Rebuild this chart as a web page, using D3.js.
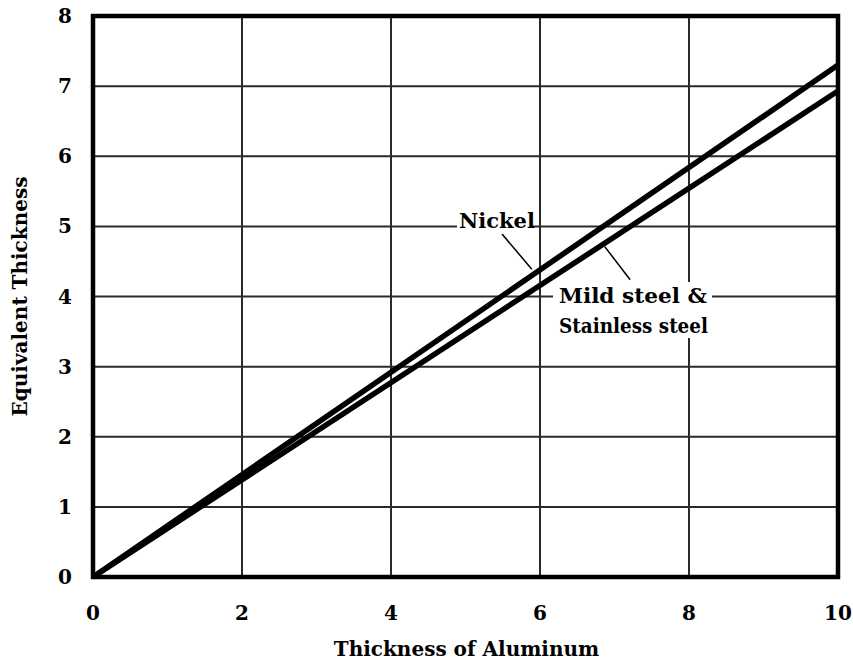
<!DOCTYPE html>
<html>
<head>
<meta charset="utf-8">
<script src="https://cdn.jsdelivr.net/npm/d3@7"></script>
<style>
  body { margin: 0; background: #fff; }
  svg { display: block; }
</style>
</head>
<body>
<div id="chart"></div>
<script>
// data
const xTicks = [0, 2, 4, 6, 8, 10];
const yTicks = [0, 1, 2, 3, 4, 5, 6, 7, 8];
const aluminum = [0, 10];
const nickel = [0, 7.3];
const steel = [0, 6.93];

const margin = { top: 16, right: 15, bottom: 90, left: 93 };
const width = 853 - margin.left - margin.right;
const height = 667 - margin.top - margin.bottom;

const svg = d3.select("#chart")
    .append("svg")
    .attr("width", 853)
    .attr("height", 667)
    .style("font-family", "'DejaVu Serif', 'Liberation Serif', serif")
    .style("font-weight", "bold");

const g = svg.append("g")
    .attr("transform", `translate(${margin.left},${margin.top})`);

const x = d3.scaleLinear().domain([0, 10]).range([0, width]);
const y = d3.scaleLinear().domain([0, 8]).range([height, 0]);

// grid
g.append("g")
    .selectAll("line")
    .data(xTicks)
    .enter()
    .append("line")
    .attr("x1", d => x(d)).attr("x2", d => x(d))
    .attr("y1", 0).attr("y2", height)
    .attr("stroke", "#2a2a2a")
    .attr("stroke-width", 2);

g.append("g")
    .selectAll("line")
    .data(yTicks)
    .enter()
    .append("line")
    .attr("x1", 0).attr("x2", width)
    .attr("y1", d => y(d)).attr("y2", d => y(d))
    .attr("stroke", "#2a2a2a")
    .attr("stroke-width", 2);

// curves
const line = d3.line()
    .x((d, i) => x(aluminum[i]))
    .y(d => y(d));

g.append("path")
    .datum(steel)
    .attr("d", line)
    .attr("fill", "none")
    .attr("stroke", "#000")
    .attr("stroke-width", 5.5);

g.append("path")
    .datum(nickel)
    .attr("d", line)
    .attr("fill", "none")
    .attr("stroke", "#000")
    .attr("stroke-width", 5.5);

// labels with leader lines
g.append("line")
    .attr("x1", x(5.49)).attr("y1", y(4.89))
    .attr("x2", x(5.89)).attr("y2", y(4.39))
    .attr("stroke", "#000").attr("stroke-width", 1.5);

g.append("line")
    .attr("x1", x(6.87)).attr("y1", y(4.71))
    .attr("x2", x(7.21)).attr("y2", y(4.24))
    .attr("stroke", "#000").attr("stroke-width", 1.5);

// white boxes behind the labels break the grid
g.append("rect")
    .attr("x", 364).attr("y", 198)
    .attr("width", 76).attr("height", 20)
    .attr("fill", "#fff");

g.append("text")
    .attr("x", 404)
    .attr("y", 212)
    .attr("text-anchor", "middle")
    .style("font-size", "21px")
    .text("Nickel");

g.append("rect")
    .attr("x", 460).attr("y", 266)
    .attr("width", 159).attr("height", 56)
    .attr("fill", "#fff");

g.append("text")
    .attr("x", 466)
    .attr("y", 287)
    .attr("textLength", 148)
    .attr("lengthAdjust", "spacingAndGlyphs")
    .style("font-size", "21px")
    .text("Mild steel &");

g.append("text")
    .attr("x", 466)
    .attr("y", 317)
    .attr("textLength", 149)
    .attr("lengthAdjust", "spacingAndGlyphs")
    .style("font-size", "21px")
    .text("Stainless steel");

// frame
g.append("rect")
    .attr("width", width)
    .attr("height", height)
    .attr("fill", "none")
    .attr("stroke", "#000")
    .attr("stroke-width", 4.5);

// tick labels
g.append("g")
    .selectAll("text")
    .data(xTicks)
    .enter()
    .append("text")
    .attr("x", d => x(d))
    .attr("y", height + 43)
    .attr("text-anchor", "middle")
    .style("font-size", "20px")
    .text(d => d);

g.append("g")
    .selectAll("text")
    .data(yTicks)
    .enter()
    .append("text")
    .attr("x", -21)
    .attr("y", d => y(d) + 7)
    .attr("text-anchor", "end")
    .style("font-size", "20px")
    .text(d => d);

// axis titles
svg.append("text")
    .attr("x", margin.left + width / 2 + 1)
    .attr("y", 656)
    .attr("text-anchor", "middle")
    .style("font-size", "20px")
    .text("Thickness of Aluminum");

svg.append("text")
    .attr("transform", `translate(27,${margin.top + height / 2}) rotate(-90)`)
    .attr("text-anchor", "middle")
    .style("font-size", "20px")
    .text("Equivalent Thickness");
</script>
</body>
</html>
